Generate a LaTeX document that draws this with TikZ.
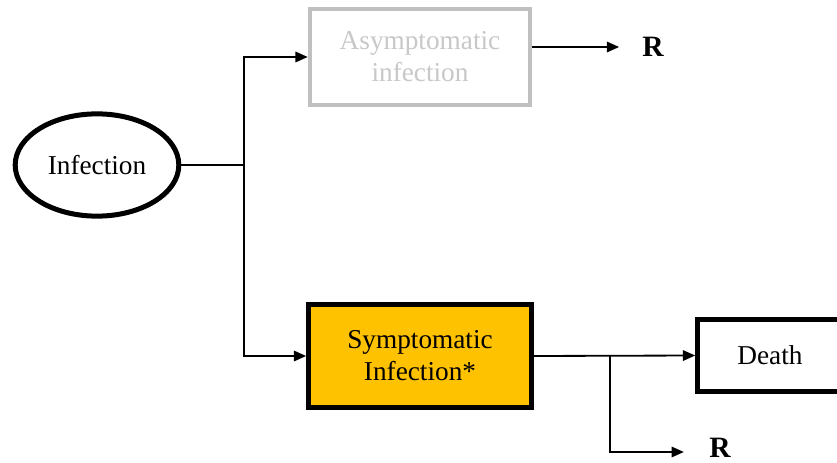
\documentclass[tikz,border=0pt]{standalone}
\usepackage{fontspec}
\setmainfont{Liberation Serif}
\usetikzlibrary{shapes.geometric,arrows.meta}
\definecolor{symgold}{RGB}{255,194,0}
\definecolor{asymgray}{RGB}{192,192,192}
\definecolor{asymtext}{RGB}{200,200,200}

\tikzset{
  flow/.style={line width=0.8pt, -{Triangle[length=5.4pt,width=4.6pt]}},
  plain/.style={line width=0.8pt},
  outcome/.style={font=\fontsize{13}{15}\selectfont\bfseries, inner sep=0pt}
}

\begin{document}
\begin{tikzpicture}[x=0.44pt,y=-0.44pt]

% Frame
\clip (0,0) rectangle (837,463);
\fill[white] (0,0) rectangle (837,463);

% Start
\node[ellipse, draw, line width=2.2pt, minimum width=72pt, minimum height=45pt,
  font=\fontsize{12}{14}\selectfont] (infection) at (97,165) {Infection};

% Branches
\node[draw=asymgray, line width=1.8pt, text=asymtext, minimum width=97pt,
  minimum height=42pt, align=center, font=\fontsize{12}{14}\selectfont]
  (asym) at (420,57) {Asymptomatic\\infection};
\node[draw, fill=symgold, line width=2.2pt, minimum width=98pt,
  minimum height=45pt, align=center, font=\fontsize{12}{14}\selectfont]
  (symp) at (420,356) {Symptomatic\\Infection*};

% Outcomes
\node[draw, line width=2.2pt, minimum width=68pt, minimum height=32pt,
  font=\fontsize{12}{14}\selectfont] (death) at (775,355.5) {};
\node[font=\fontsize{12}{14}\selectfont] (deathtext) at (770,355) {Death};
\node[outcome] (rtop) at (653,47) {R};
\node[outcome] (rbot) at (720,448) {R};

% Junctions
\coordinate (split) at (244,165);
\coordinate (fork) at (610,356);

% Arrows
\draw[plain] (infection.east) -- (split);
\draw[flow] (split) |- (asym.west);
\draw[flow] (split) |- (symp.west);
\draw[flow, shorten >=10pt] (asym.east |- rtop) -- (rtop.west);
\draw[flow] (symp.east) -- (death.west);
\draw[flow, shorten >=11pt] (fork) |- (rbot.west |- 0,452);

\end{tikzpicture}
\end{document}
